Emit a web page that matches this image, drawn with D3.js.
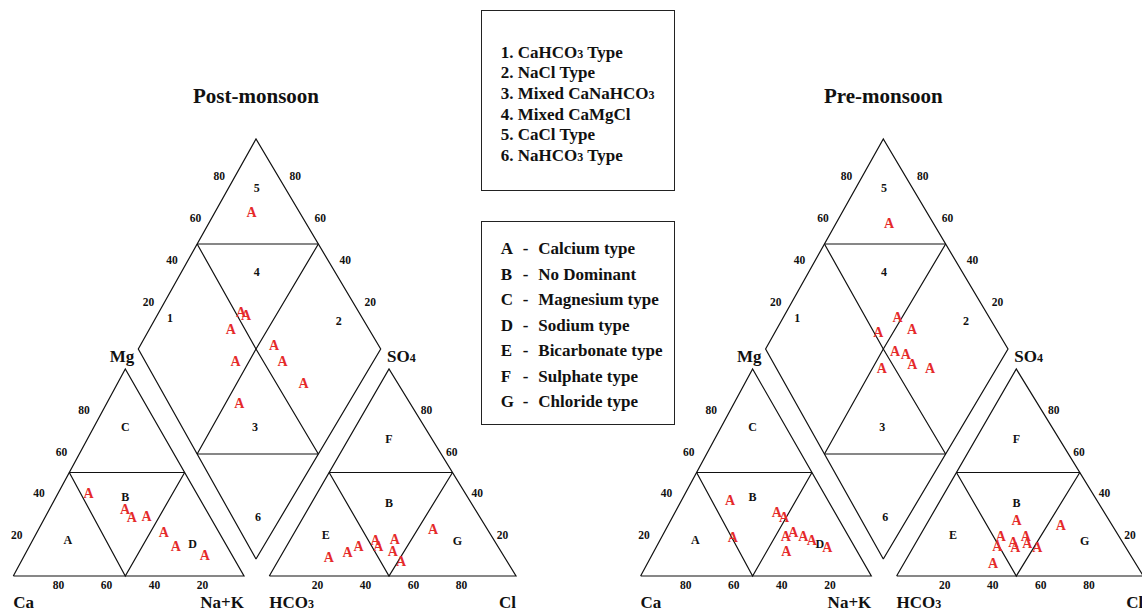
<!DOCTYPE html>
<html><head><meta charset="utf-8">
<script src="https://cdn.jsdelivr.net/npm/d3@7"></script>
<style>
body{margin:0;background:#fff}
svg{display:block}
text{font-family:"Liberation Serif","Times New Roman",serif;font-weight:bold;fill:#111}
</style>
</head><body>
<svg id="c" width="1142" height="615"></svg>
<script>
// ---------- data ----------
const tickValues = [20, 40, 60, 80];
const titles = ["Post-monsoon", "Pre-monsoon"];
const typeLegend = ["1. CaHCO3 Type", "2. NaCl Type", "3. Mixed CaNaHCO3", "4. Mixed CaMgCl", "5. CaCl Type", "6. NaHCO3 Type"];
const faciesCodes = ["A", "B", "C", "D", "E", "F", "G"];
const faciesNames = ["Calcium type", "No Dominant", "Magnesium type", "Sodium type", "Bicarbonate type", "Sulphate type", "Chloride type"];

// zone labels (positions in % of each plot)
const cationZones = ["C", "B", "A", "D"];
const cationZoneMg = [72, 38.2, 17.4, 15.5];
const cationZoneNaK = [14, 30.9, 15.7, 70.6];
const anionZones = ["F", "B", "E", "G"];
const anionZoneSO4 = [66.2, 35.3, 19.8, 16.9];
const anionZoneCl = [16.9, 32.4, 13.7, 68.5];
const diamondZones = ["5", "4", "1", "2", "3", "6"];
const diamondZoneNaK = [12, 31.9, 6.1, 76.5, 68.1, 90.8];
const diamondZoneSO4Cl = [88.6, 68.7, 20.8, 89.8, 31, 10.8];

// Post-monsoon samples (%)
const postCa  = [46.4, 34.0, 33.0, 26.5, 23.3, 21.4, 11.5];
const postMg  = [40.0, 32.2, 28.6, 29.0, 20.9, 14.6, 10.1];
const postNaK = [13.6, 33.8, 38.4, 44.5, 55.8, 64.0, 78.4];
const postHCO3 = [70.6, 61.6, 55.5, 46.9, 47.2, 38.8, 42.4, 41.7, 21.3];
const postSO4  = [9.0, 11.5, 14.5, 17.4, 14.5, 17.9, 12.2, 7.1, 22.8];
const postCl   = [20.4, 26.9, 30.0, 35.7, 38.3, 43.3, 45.4, 51.2, 55.9];
const postDiamondNaK   = [15.7, 34.8, 37.8, 34.6, 56.3, 63.5, 44.2, 77.2, 55.9];
const postDiamondSO4Cl = [80.6, 52.5, 53.7, 43.9, 58.2, 57.9, 38.4, 60.9, 29.9];

// Pre-monsoon samples (%)
const preCa  = [41.7, 49.5, 24.4, 22.5, 26.4, 22.4, 19.0, 16.4, 11.7, 29.7];
const preMg  = [36.7, 18.7, 30.8, 28.4, 19.3, 20.9, 19.3, 17.4, 13.7, 12.2];
const preNaK = [21.6, 31.8, 44.8, 49.1, 54.3, 56.7, 61.7, 66.2, 74.6, 58.1];
const preHCO3 = [36.5, 46.8, 50.7, 43.1, 43.4, 36.6, 37.7, 34.7, 20.3, 56.5];
const preSO4  = [26.7, 19.3, 14.5, 16.3, 14.1, 19.3, 15.9, 14.1, 24.3, 6.4];
const preCl   = [36.8, 33.9, 34.8, 40.6, 42.5, 44.1, 46.4, 51.2, 55.4, 37.1];
const preDiamondNaK   = [22.4, 48.2, 56.7, 43.8, 55.3, 60.2, 65.2, 73.3, 53.9];
const preDiamondSO4Cl = [82.2, 63.3, 66.3, 52.0, 54.1, 57.8, 58.1, 64.2, 44.8];

// ---------- layout ----------
const svg = d3.select("#c");
const RED = "#e52a2a";
const G = {catL: 13.3, catC: 125.3, catR: 244, anL: 269.3, anC: 389, anR: 516,
           base: 576, top: 369, dL: 138.3, dC: 256, dR: 380.7, dTop: 139, dBot: 559};
const offsets = [0, 627.3];

function rich(sel, str, subSize) {
  const parts = str.split(/(?<=O)(\d)/);
  parts.forEach((p, i) => {
    if (!p) return;
    const t = sel.append("tspan").text(p);
    if (i % 2 === 1) t.attr("font-size", subSize);
  });
}

const line = d3.line();

function drawChart(ox, title, Ca, Mg, NaK, HCO3, SO4, Cl, dNaK, dV) {
  const g = svg.append("g");
  const triY = d3.scaleLinear().domain([0, 100]).range([G.base, G.top]);
  const catX = d3.scaleLinear().domain([-1, 0, 1]).range([G.catL + ox, G.catC + ox, G.catR + ox]);
  const anX = d3.scaleLinear().domain([-1, 0, 1]).range([G.anL + ox, G.anC + ox, G.anR + ox]);
  const diaX = d3.scaleLinear().domain([-1, 0, 1]).range([G.dL + ox, G.dC + ox, G.dR + ox]);
  const diaY = d3.scaleLinear().domain([-1, 1]).range([G.dBot, G.dTop]);

  const cat = (mg, nak) => [catX((2 * nak + mg) / 100 - 1), triY(mg)];
  const an = (so4, cl) => [anX((2 * cl + so4) / 100 - 1), triY(so4)];
  const dia = (nak, v) => [diaX((v + nak) / 100 - 1), diaY((v - nak) / 100)];

  const path = pts => g.append("path").attr("d", line(pts)).attr("fill", "none")
      .attr("stroke", "#111").attr("stroke-width", 1.2).attr("stroke-linejoin", "miter");

  // cation triangle
  path([cat(0, 0), cat(0, 100), cat(100, 0), cat(0, 0)]);
  path([cat(50, 0), cat(50, 50)]);
  path([cat(50, 0), cat(0, 50), cat(50, 50)]);
  // anion triangle
  path([an(0, 0), an(0, 100), an(100, 0), an(0, 0)]);
  path([an(50, 0), an(50, 50)]);
  path([an(50, 0), an(0, 50), an(50, 50)]);
  // diamond
  path([dia(100, 0), dia(0, 0), dia(0, 100), dia(100, 100), dia(100, 0)]);
  path([dia(0, 50), dia(50, 100)]);
  path([dia(50, 0), dia(100, 50)]);
  path([dia(0, 50), dia(50, 50), dia(100, 50)]);
  path([dia(50, 100), dia(50, 50), dia(50, 0)]);

  const txt = (x, y, s, size, anchor) => g.append("text").attr("x", x).attr("y", y)
      .attr("font-size", size).attr("text-anchor", anchor || "middle").text(s);

  // tick labels
  const catBottom = d3.scaleLinear().domain([100, 0]).range([G.catL - 3 + ox, G.catR + 6.7 + ox]);
  const anBottom = d3.scaleLinear().domain([0, 100]).range([G.anL + ox, G.anR - 6.3 + ox]);
  tickValues.forEach(t => {
    let p = cat(t, 0);
    txt(p[0] - 19, p[1], t, 11.5).attr("dy", "0.34em");
    txt(catBottom(t), G.base + 13, t, 11.5);
    p = an(t, 100 - t);
    txt(p[0] + 12, p[1], t, 11.5).attr("dy", "0.34em");
    txt(anBottom(t), G.base + 13, t, 11.5);
    p = dia(0, t);
    txt(p[0] - 13.3, p[1] - 5, t, 11.5).attr("dy", "0.34em");
    p = dia(100 - t, 100);
    txt(p[0] + 14.4, p[1] - 5, t, 11.5).attr("dy", "0.34em");
  });

  // zone labels
  cationZones.forEach((s, i) => { const p = cat(cationZoneMg[i], cationZoneNaK[i]); txt(p[0], p[1], s, 12).attr("dy", "0.34em"); });
  anionZones.forEach((s, i) => { const p = an(anionZoneSO4[i], anionZoneCl[i]); txt(p[0], p[1], s, 12).attr("dy", "0.34em"); });
  diamondZones.forEach((s, i) => { const p = dia(diamondZoneNaK[i], diamondZoneSO4Cl[i]); txt(p[0], p[1], s, 12).attr("dy", "0.34em"); });

  // axis names
  txt(catX(-1), 608, "Ca", 17, "start");
  txt(catX(1), 608, "Na+K", 17, "end");
  rich(txt(anX(-1), 608, "", 17, "start"), "HCO3", 12);
  txt(anX(1), 608, "Cl", 17, "end");
  txt(catX(0) + 9, 362, "Mg", 17, "end");
  rich(txt(anX(0) - 2, 362, "", 17, "start"), "SO4", 12);

  // title
  txt(diaX(0), 103, title, 21);

  // samples
  const mark = p => g.append("text").attr("x", p[0]).attr("y", p[1]).attr("dy", "0.34em")
      .attr("text-anchor", "middle").attr("font-size", 14).style("fill", RED).text("A");
  Ca.forEach((c, i) => mark(cat(Mg[i], NaK[i])));
  HCO3.forEach((h, i) => mark(an(SO4[i], Cl[i])));
  dNaK.forEach((n, i) => mark(dia(n, dV[i])));
}

drawChart(offsets[0], titles[0], postCa, postMg, postNaK, postHCO3, postSO4, postCl, postDiamondNaK, postDiamondSO4Cl);
drawChart(offsets[1], titles[1], preCa, preMg, preNaK, preHCO3, preSO4, preCl, preDiamondNaK, preDiamondSO4Cl);

// legends
const lg = svg.append("g");
lg.append("rect").attr("x", 481.5).attr("y", 10.5).attr("width", 193).attr("height", 180)
  .attr("fill", "none").attr("stroke", "#222").attr("stroke-width", 1);
lg.append("rect").attr("x", 481.5).attr("y", 221.5).attr("width", 193).attr("height", 203)
  .attr("fill", "none").attr("stroke", "#222").attr("stroke-width", 1);
typeLegend.forEach((s, i) => {
  const t = lg.append("text").attr("x", 500.7).attr("y", 57.5 + i * 20.7).attr("font-size", 17);
  rich(t, s, 12);
});
faciesCodes.forEach((c, i) => {
  const y = 254 + i * 25.55;
  lg.append("text").attr("x", 500.7).attr("y", y).attr("font-size", 17).text(c);
  lg.append("text").attr("x", 525.7).attr("y", y).attr("font-size", 17).attr("text-anchor", "middle").text("-");
  lg.append("text").attr("x", 538.3).attr("y", y).attr("font-size", 17).text(faciesNames[i]);
});
</script>
</body></html>
